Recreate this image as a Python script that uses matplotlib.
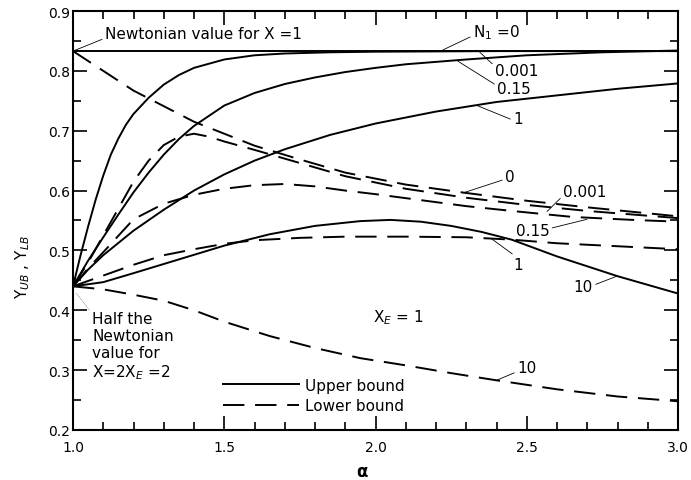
import numpy as np
import matplotlib.pyplot as plt
from matplotlib.ticker import MultipleLocator

# ------------------------------------- Data ---------#
# Upper bounds (solid)
a_ub_0 = [1.0, 3.0]
y_ub_0 = [0.833, 0.833]

a_ub_0001 = [1.0, 1.025, 1.05, 1.075, 1.1, 1.125, 1.15, 1.175, 1.2, 1.25, 1.3,
             1.35, 1.4, 1.5, 1.6, 1.7, 1.85, 2.0, 2.4, 3.0]
y_ub_0001 = [0.44, 0.492, 0.54, 0.585, 0.625, 0.66, 0.687, 0.71, 0.728, 0.755,
             0.777, 0.793, 0.805, 0.819, 0.826, 0.829, 0.831, 0.832, 0.833, 0.833]

a_ub_015 = [1.0, 1.05, 1.1, 1.15, 1.2, 1.25, 1.3, 1.35, 1.4, 1.5, 1.6, 1.7,
            1.8, 1.9, 2.0, 2.1, 2.3, 2.5, 2.75, 3.0]
y_ub_015 = [0.44, 0.483, 0.522, 0.56, 0.597, 0.63, 0.66, 0.686, 0.708, 0.742,
            0.763, 0.778, 0.789, 0.798, 0.805, 0.811, 0.819, 0.826, 0.831, 0.834]

a_ub_1 = [1.0, 1.05, 1.1, 1.2, 1.3, 1.4, 1.5, 1.6, 1.7, 1.85, 2.0, 2.2, 2.4,
          2.6, 2.8, 3.0]
y_ub_1 = [0.44, 0.468, 0.492, 0.533, 0.568, 0.6, 0.627, 0.65, 0.669, 0.693,
          0.712, 0.732, 0.748, 0.759, 0.77, 0.779]

a_ub_10 = [1.0, 1.1, 1.2, 1.35, 1.5, 1.65, 1.8, 1.95, 2.05, 2.15, 2.25, 2.35,
           2.45, 2.6, 2.8, 3.0]
y_ub_10 = [0.44, 0.447, 0.462, 0.485, 0.508, 0.527, 0.541, 0.549, 0.551,
           0.548, 0.541, 0.531, 0.518, 0.49, 0.457, 0.428]

# Lower bounds (dashed)
a_lb_0 = [1.0, 1.1, 1.2, 1.3, 1.4, 1.5, 1.6, 1.75, 1.9, 2.1, 2.3, 2.5, 2.7,
          2.9, 3.0]
y_lb_0 = [0.833, 0.80, 0.767, 0.741, 0.715, 0.695, 0.675, 0.652, 0.63, 0.61,
          0.596, 0.583, 0.572, 0.562, 0.557]

a_lb_0001 = [1.0, 1.05, 1.1, 1.15, 1.2, 1.25, 1.3, 1.35, 1.4, 1.45, 1.5, 1.6,
             1.75, 1.9, 2.1, 2.3, 2.5, 2.7, 2.9, 3.0]
y_lb_0001 = [0.44, 0.48, 0.525, 0.57, 0.615, 0.65, 0.676, 0.69, 0.695, 0.69,
             0.682, 0.668, 0.646, 0.624, 0.603, 0.588, 0.576, 0.566, 0.558, 0.554]

a_lb_015 = [1.0, 1.05, 1.1, 1.2, 1.3, 1.4, 1.5, 1.6, 1.7, 1.8, 1.9, 2.0, 2.15,
            2.3, 2.45, 2.65, 2.85, 3.0]
y_lb_015 = [0.44, 0.47, 0.497, 0.552, 0.578, 0.593, 0.603, 0.609, 0.611,
            0.607, 0.60, 0.594, 0.584, 0.574, 0.566, 0.556, 0.551, 0.548]

a_lb_1 = [1.0, 1.1, 1.2, 1.3, 1.4, 1.5, 1.6, 1.75, 1.9, 2.1, 2.3, 2.45, 2.6,
          2.8, 3.0]
y_lb_1 = [0.44, 0.458, 0.476, 0.492, 0.502, 0.511, 0.517, 0.521, 0.523,
          0.523, 0.522, 0.518, 0.512, 0.507, 0.502]

a_lb_10 = [1.0, 1.1, 1.2, 1.3, 1.4, 1.5, 1.65, 1.8, 1.95, 2.1, 2.25, 2.4, 2.6,
           2.8, 3.0]
y_lb_10 = [0.44, 0.435, 0.426, 0.416, 0.40, 0.381, 0.357, 0.337, 0.32, 0.308,
           0.295, 0.283, 0.268, 0.256, 0.248]

x_ticks = [1.0, 1.5, 2.0, 2.5, 3.0]
x_ticklabels = ['1.0', '1.5', '2.0', '2.5', '3.0']
y_ticks = [0.2, 0.3, 0.4, 0.5, 0.6, 0.7, 0.8, 0.9]
y_ticklabels = ['0.2', '0.3', '0.4', '0.5', '0.6', '0.7', '0.8', '0.9']

# ------------------------------------- Figure ---------------------------#
plt.rcParams['font.family'] = 'DejaVu Sans'
plt.rcParams['mathtext.fontset'] = 'dejavusans'

fig = plt.figure(figsize=(6.91, 4.81), dpi=100)
ax = fig.add_axes([73 / 691, 50 / 481, 605 / 691, 419 / 481])

lw = 1.4
dash = (11, 5.5)

ax.plot(a_ub_0, y_ub_0, 'k-', lw=lw, label='Upper bound')
ax.plot(a_ub_0001, y_ub_0001, 'k-', lw=lw)
ax.plot(a_ub_015, y_ub_015, 'k-', lw=lw)
ax.plot(a_ub_1, y_ub_1, 'k-', lw=lw)
ax.plot(a_ub_10, y_ub_10, 'k-', lw=lw)

ax.plot(a_lb_0, y_lb_0, 'k', lw=lw, dashes=dash, label='Lower bound')
ax.plot(a_lb_0001, y_lb_0001, 'k', lw=lw, dashes=dash)
ax.plot(a_lb_015, y_lb_015, 'k', lw=lw, dashes=dash)
ax.plot(a_lb_1, y_lb_1, 'k', lw=lw, dashes=dash)
ax.plot(a_lb_10, y_lb_10, 'k', lw=lw, dashes=dash)

ax.set_xlim(1.0, 3.0)
ax.set_ylim(0.2, 0.9)
ax.set_xticks(x_ticks)
ax.set_xticklabels(x_ticklabels)
ax.set_yticks(y_ticks)
ax.set_yticklabels(y_ticklabels)
ax.xaxis.set_minor_locator(MultipleLocator(0.1))
ax.yaxis.set_minor_locator(MultipleLocator(0.05))

ax.tick_params(which='both', direction='in', top=True, right=True,
               width=1.2, labelsize=10, colors='k')
ax.tick_params(which='major', length=10)
ax.tick_params(which='minor', length=6)
ax.tick_params(axis='x', pad=7)
ax.tick_params(axis='y', pad=2)
for sp in ax.spines.values():
    sp.set_linewidth(1.5)

# ------------------------------------- Labels and leaders ---------------#
fs = 11
lead = dict(arrowstyle='-', lw=0.6, color='k', shrinkA=0, shrinkB=0)

ax.annotate('Newtonian value for X =1', xy=(1.0, 0.833), xytext=(1.105, 0.862),
            fontsize=fs, ha='left', va='center',
            arrowprops=dict(lead, relpos=(0, 0.2)))
ax.annotate(r'N$_1$ =0', xy=(2.223, 0.835), xytext=(2.322, 0.865),
            fontsize=fs, ha='left', va='center',
            arrowprops=dict(lead, relpos=(0, 0.3)))
ax.annotate('0.001', xy=(2.345, 0.831), xytext=(2.395, 0.80),
            fontsize=fs, ha='left', va='center',
            arrowprops=dict(lead, relpos=(0, 0.8)))
ax.annotate('0.15', xy=(2.273, 0.816), xytext=(2.402, 0.77),
            fontsize=fs, ha='left', va='center',
            arrowprops=dict(lead, relpos=(0, 0.7)))
ax.annotate('1', xy=(2.336, 0.742), xytext=(2.455, 0.72),
            fontsize=fs, ha='left', va='center',
            arrowprops=dict(lead, relpos=(0, 0.4)))

ax.annotate('0', xy=(2.289, 0.596), xytext=(2.428, 0.624),
            fontsize=fs, ha='left', va='center',
            arrowprops=dict(lead, relpos=(0, 0.3)))
ax.annotate('0.001', xy=(2.567, 0.565), xytext=(2.62, 0.599),
            fontsize=fs, ha='left', va='center',
            arrowprops=dict(lead, relpos=(0, 0.2)))
ax.annotate('0.15', xy=(2.699, 0.552), xytext=(2.575, 0.534),
            fontsize=fs, ha='right', va='center',
            arrowprops=dict(lead, relpos=(1, 0.6)))
ax.annotate('1', xy=(2.385, 0.519), xytext=(2.471, 0.477),
            fontsize=fs, ha='center', va='center',
            arrowprops=dict(lead, relpos=(0.3, 1)))
ax.annotate('10', xy=(2.798, 0.457), xytext=(2.719, 0.439),
            fontsize=fs, ha='right', va='center',
            arrowprops=dict(lead, relpos=(1, 0.6)))
ax.annotate('10', xy=(2.40, 0.283), xytext=(2.468, 0.305),
            fontsize=fs, ha='left', va='center',
            arrowprops=dict(lead, relpos=(0, 0.2)))

ax.text(1.992, 0.39, r'X$_E$ = 1', fontsize=fs, ha='left', va='center')
ax.annotate('Half the\nNewtonian\nvalue for\n' + r'X=2X$_E$ =2',
            xy=(1.012, 0.428), xytext=(1.063, 0.34),
            fontsize=fs, ha='left', va='center', linespacing=1.15,
            arrowprops=dict(arrowstyle='-', lw=0.5, color='0.5', ls=':',
                            shrinkA=0, shrinkB=0, relpos=(0, 0.97)))

ax.legend(loc='upper left', bbox_to_anchor=(0.248, 0.125), frameon=False,
          fontsize=fs, handlelength=5.0, handletextpad=0.35,
          labelspacing=0.35, borderpad=0, borderaxespad=0)

fig.text(362 / 691, 1 - 472 / 481, r'$\mathbf{\alpha}$', fontsize=12,
         ha='center', va='center')
fig.text(23 / 691, 1 - 267 / 481, r'Y$_{UB}$ , Y$_{LB}$', fontsize=11,
         rotation=90, ha='center', va='center')

fig.savefig('out.png', dpi=100)
